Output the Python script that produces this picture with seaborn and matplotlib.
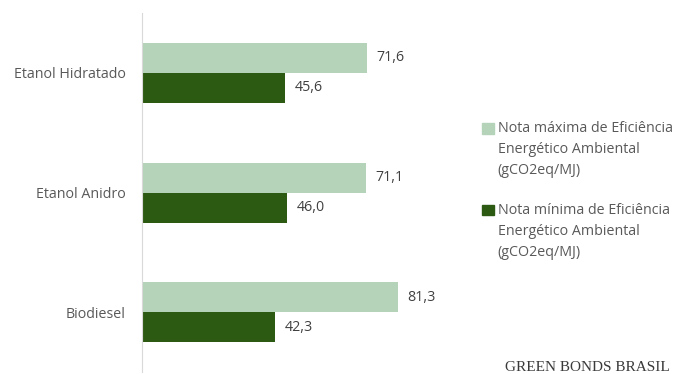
import matplotlib.pyplot as plt
import matplotlib.patches as mpatches
import pandas as pd
import seaborn as sns

combustiveis = ["Etanol Hidratado", "Etanol Anidro", "Biodiesel"]
nota_maxima = [71.6, 71.1, 81.3]
nota_minima = [45.6, 46.0, 42.3]
series = ["Nota máxima de Eficiência\nEnergético Ambiental\n(gCO2eq/MJ)",
          "Nota mínima de Eficiência\nEnergético Ambiental\n(gCO2eq/MJ)"]
cores = ["#b5d3b8", "#2d5a12"]

df = pd.DataFrame({
    "combustivel": combustiveis * 2,
    "valor": nota_maxima + nota_minima,
    "serie": [series[0]] * 3 + [series[1]] * 3,
})

sns.set_style("white")
plt.rcParams["font.family"] = ["Open Sans", "DejaVu Sans"]
texto_cor = "#595959"
fs = 10.3

fig = plt.figure(figsize=(6.79, 3.74), dpi=100)
ax = fig.add_axes([0.209, 0.005, 0.44, 0.96])

sns.barplot(data=df, y="combustivel", x="valor", hue="serie", orient="h",
            palette=cores, width=0.5, saturation=1, linewidth=0, ax=ax, legend=False)

for cont in ax.containers:
    ax.bar_label(cont, labels=[f"{v:.1f}".replace(".", ",") for v in cont.datavalues],
                 padding=7, fontsize=fs, color="#404040")

ax.set_xlim(0, 95)
ax.set_xlabel("")
ax.set_ylabel("")
ax.set_xticks([])
ax.tick_params(axis="y", length=0, pad=11.5, labelsize=fs, labelcolor=texto_cor)
for s in ["top", "right", "bottom"]:
    ax.spines[s].set_visible(False)
ax.spines["left"].set_color("#d9d9d9")

# legend drawn by hand so the square sits on the first line
for i, (lab, cor) in enumerate(zip(series, cores)):
    fig.patches.append(mpatches.Rectangle((0.710, 0.643 - i * 0.219), 0.0177, 0.029,
                                          transform=fig.transFigure, color=cor))
    fig.text(0.733, 0.677 - i * 0.219, lab, fontsize=fs, color=texto_cor, va="top",
             linespacing=1.56)

fig.text(0.987, 0.008, "GREEN BONDS BRASIL", fontsize=11, ha="right", va="baseline",
         color="#3a3a3a", family="Liberation Serif")

fig.savefig("out.png", dpi=100)
